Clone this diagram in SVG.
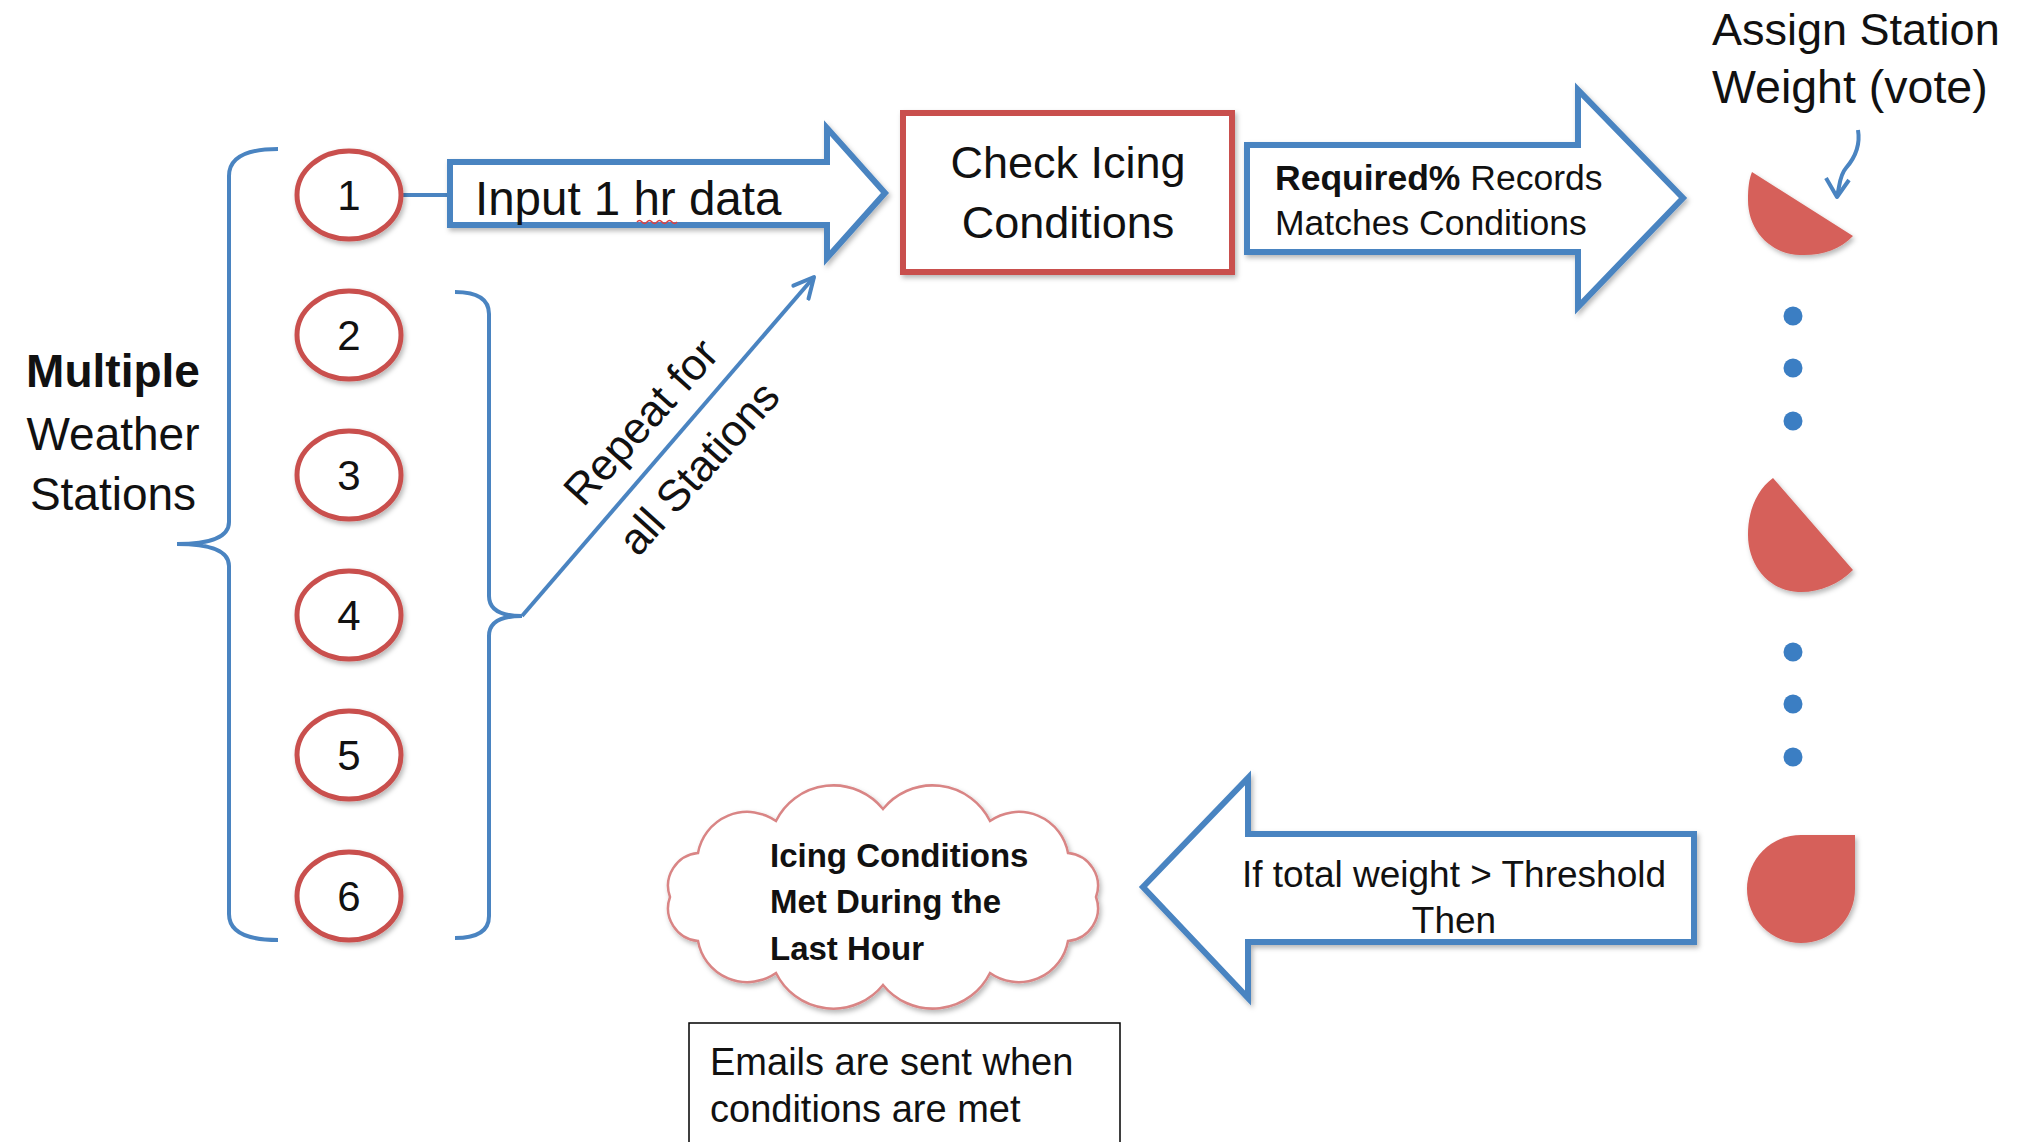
<svg xmlns="http://www.w3.org/2000/svg" width="2021" height="1142" viewBox="0 0 2021 1142">
<defs>
<filter id="sh" x="-20%" y="-20%" width="140%" height="140%">
<feDropShadow dx="2" dy="3" stdDeviation="2.5" flood-color="#000" flood-opacity="0.28"/>
</filter>
<marker id="openArrow" markerUnits="userSpaceOnUse" markerWidth="30" markerHeight="30" refX="22" refY="12" orient="auto" viewBox="0 0 30 24">
<path d="M2,2 L22,12 L2,22" fill="none" stroke="#4a84c1" stroke-width="4" stroke-linecap="round" stroke-linejoin="round"/>
</marker>
</defs>
<style>
text{font-family:"Liberation Sans",Arial,sans-serif;fill:#111;}
.station{fill:#fff;stroke:#c9504e;stroke-width:5;}
.num{font-size:42px;text-anchor:middle;}
.barrow{fill:#fff;stroke:#4a84c1;stroke-width:6;stroke-linejoin:miter;}
.brace{fill:none;stroke:#4a84c1;stroke-width:4;}
.conn{fill:none;stroke:#4a84c1;stroke-width:4;}
.vote{fill:#d6605a;}
.dot{fill:#3b7ec3;}
</style>
<rect width="2021" height="1142" fill="#fff"/>

<g id="label-multiple">
<text x="113" y="387" font-size="46" font-weight="bold" text-anchor="middle">Multiple</text>
<text x="113" y="450" font-size="46" text-anchor="middle">Weather</text>
<text x="113" y="510" font-size="46" text-anchor="middle">Stations</text>
</g>

<g id="connectors">
<path class="brace" d="M278,149 Q229,149 229,176 L229,522 Q229,544 177,544 Q229,544 229,566 L229,914 Q229,940 278,940"/>
<path class="brace" d="M455,292 Q489,292 489,314 L489,596 Q489,616 522,616 Q489,616 489,636 L489,916 Q489,938 455,938"/>
<line class="conn" x1="402" y1="195" x2="450" y2="195"/>
<line class="conn" x1="522" y1="616" x2="814" y2="277" marker-end="url(#openArrow)"/>
<path class="conn" d="M1858,130 C1861,148 1853,160 1846,168 C1839,176 1840,186 1837,196"/>
<path class="conn" d="M1826,178 L1837,197 L1849,180" stroke-linejoin="round"/>
</g>

<g id="station-1"><ellipse class="station" cx="349" cy="195" rx="52" ry="44" filter="url(#sh)"/><text class="num" x="349" y="210">1</text></g>
<g id="station-2"><ellipse class="station" cx="349" cy="335" rx="52" ry="44" filter="url(#sh)"/><text class="num" x="349" y="350">2</text></g>
<g id="station-3"><ellipse class="station" cx="349" cy="475" rx="52" ry="44" filter="url(#sh)"/><text class="num" x="349" y="490">3</text></g>
<g id="station-4"><ellipse class="station" cx="349" cy="615" rx="52" ry="44" filter="url(#sh)"/><text class="num" x="349" y="630">4</text></g>
<g id="station-5"><ellipse class="station" cx="349" cy="755" rx="52" ry="44" filter="url(#sh)"/><text class="num" x="349" y="770">5</text></g>
<g id="station-6"><ellipse class="station" cx="349" cy="896" rx="52" ry="44" filter="url(#sh)"/><text class="num" x="349" y="911">6</text></g>

<g id="input-arrow">
<path class="barrow" filter="url(#sh)" d="M450,162 L827,162 L827,128 L885,193 L827,258 L827,225 L450,225 Z"/>
<text x="475" y="215" font-size="47.5">Input 1 hr data</text>
<path d="M637,222 q2.5,-3 5,0 t5,0 t5,0 t5,0 t5,0 t5,0 t5,0 t5,0" fill="none" stroke="#e04040" stroke-width="1.5"/>
</g>

<g id="repeat-label">
<text x="652" y="432" font-size="44" text-anchor="middle" transform="rotate(-48 652 432)">Repeat for</text>
<text x="710" y="478" font-size="44" text-anchor="middle" transform="rotate(-48 710 478)">all Stations</text>
</g>

<g id="check-icing">
<rect x="903" y="113" width="329" height="159" fill="#fff" stroke="#c9504e" stroke-width="6" filter="url(#sh)"/>
<text x="1068" y="178" font-size="45" text-anchor="middle">Check Icing</text>
<text x="1068" y="238" font-size="45" text-anchor="middle">Conditions</text>
</g>

<g id="required-arrow">
<path class="barrow" filter="url(#sh)" d="M1247,145 L1578,145 L1578,90 L1683,198 L1578,307 L1578,252 L1247,252 Z"/>
<text x="1275" y="190" font-size="35.5"><tspan font-weight="bold">Required%</tspan> Records</text>
<text x="1275" y="235" font-size="35.5">Matches Conditions</text>
</g>

<g id="assign-weight">
<text x="1712" y="45" font-size="45">Assign Station</text>
<text x="1712" y="103" font-size="46.5">Weight (vote)</text>
</g>

<g id="votes">
<path class="vote" filter="url(#sh)" d="M1752,172 L1853,236 C1840,250 1820,256 1800,255 C1770,254 1748,230 1748,200 C1748,188 1749,179 1752,172 Z"/>
<circle class="dot" cx="1793" cy="316" r="9.5"/>
<circle class="dot" cx="1793" cy="368" r="9.5"/>
<circle class="dot" cx="1793" cy="421" r="9.5"/>
<path class="vote" filter="url(#sh)" d="M1773,478 L1853,570 C1838,585 1818,593 1798,592 C1770,591 1748,566 1748,535 C1748,510 1757,490 1773,478 Z"/>
<circle class="dot" cx="1793" cy="652" r="9.5"/>
<circle class="dot" cx="1793" cy="704" r="9.5"/>
<circle class="dot" cx="1793" cy="757" r="9.5"/>
<path class="vote" filter="url(#sh)" d="M1801,835 L1855,835 L1855,889 A54,54 0 1 1 1801,835 Z"/>
</g>

<g id="threshold-arrow">
<path class="barrow" filter="url(#sh)" d="M1694,834 L1248,834 L1248,778 L1143,887 L1248,998 L1248,942 L1694,942 Z"/>
<text x="1454" y="887" font-size="37" text-anchor="middle">If total weight &gt; Threshold</text>
<text x="1454" y="933" font-size="37" text-anchor="middle">Then</text>
</g>

<g id="cloud">
<path filter="url(#sh)" fill="#fff" stroke="#d98585" stroke-width="2.5" d="M670,897 A33,33 0 0 1 698,853 A50,50 0 0 1 776,821 A64,64 0 0 1 883,809 A64,64 0 0 1 990,821 A50,50 0 0 1 1068,853 A33,33 0 0 1 1096,897 A33,33 0 0 1 1068,941 A50,50 0 0 1 990,973 A64,64 0 0 1 883,985 A64,64 0 0 1 776,973 A50,50 0 0 1 698,941 A33,33 0 0 1 670,897 Z"/>
<text x="770" y="867" font-size="33" font-weight="bold">Icing Conditions</text>
<text x="770" y="913" font-size="33" font-weight="bold">Met During the</text>
<text x="770" y="960" font-size="33" font-weight="bold">Last Hour</text>
</g>

<g id="email-note">
<rect x="689" y="1023" width="431" height="140" fill="#fff" stroke="#000" stroke-width="1.5"/>
<text x="710" y="1075" font-size="38">Emails are sent when</text>
<text x="710" y="1122" font-size="38">conditions are met</text>
</g>
</svg>
